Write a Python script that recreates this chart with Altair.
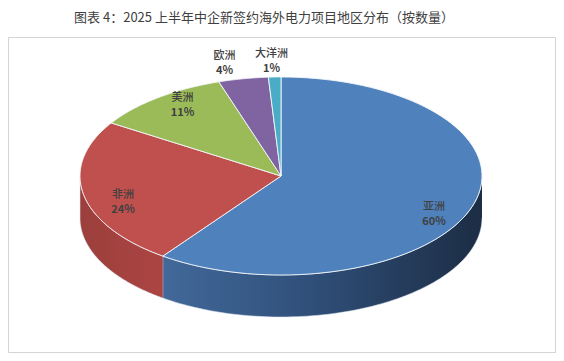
import altair as alt
import pandas as pd

# ---------------- data ----------------
categories = ["亚洲", "非洲", "美洲", "欧洲", "大洋洲"]
values = [60, 24, 11, 4, 1]
top_colors = ["#4f81bd", "#c0504d", "#9bbb59", "#8064a2", "#4bacc6"]
side_gradients = {
    "亚洲": [(0.0, "#42699a"), (0.45, "#30507a"), (1.0, "#1c2d44")],
    "非洲": [(0.0, "#9c3f3c"), (1.0, "#ab4542")],
}
TITLE = "图表 4：2025 上半年中企新签约海外电力项目地区分布（按数量）"

df = pd.DataFrame({"cat": categories, "value": values, "idx": list(range(len(categories)))})

# ---------------- layout ----------------
CX, CY, A, B, D = 281, 176, 201, 99, 42
N = 90
FONT = "Noto Sans CJK SC"
W, H = 548, 345

xs = alt.X("px:Q", scale=alt.Scale(domain=[8, 8 + W], nice=False, zero=False), axis=None)
ys = alt.Y("py:Q", scale=alt.Scale(domain=[8, 8 + H], nice=False, zero=False, reverse=True), axis=None)
color_scale = alt.Scale(domain=categories, range=top_colors)

base = (
    alt.Chart(df)
    .transform_window(cum="sum(value)", sort=[alt.SortField("idx")], frame=[None, 0])
    .transform_joinaggregate(total="sum(value)")
    .transform_calculate(
        a0="2*PI*(datum.cum-datum.value)/datum.total",
        a1="2*PI*datum.cum/datum.total",
    )
)

# top face wedges
top = (
    base.transform_calculate(pts=f"sequence(-1, {N + 2})")
    .transform_flatten(["pts"], as_=["i"])
    .transform_calculate(t=f"datum.a0 + (datum.a1 - datum.a0) * clamp(datum.i, 0, {N}) / {N}")
    .transform_calculate(
        px=f"(datum.i < 0 || datum.i > {N}) ? {CX} : {CX} + {A} * sin(datum.t)",
        py=f"(datum.i < 0 || datum.i > {N}) ? {CY} : {CY} - {B} * cos(datum.t)",
    )
    .mark_line(stroke="#f4f7fb", strokeWidth=1, strokeOpacity=0.9, strokeJoin="round")
    .encode(
        x=xs,
        y=ys,
        fill=alt.Fill("cat:N", scale=color_scale, legend=None),
        detail="cat:N",
        order=alt.Order("i:Q"),
    )
)

# side walls (front half only)
side = (
    base.transform_calculate(s0="max(datum.a0, PI/2)", s1="min(datum.a1, 3*PI/2)")
    .transform_filter("datum.s1 > datum.s0")
    .transform_calculate(pts=f"sequence(0, {2 * N + 2})")
    .transform_flatten(["pts"], as_=["j"])
    .transform_calculate(k=f"datum.j <= {N} ? datum.j : {2 * N + 1} - datum.j")
    .transform_calculate(t=f"datum.s0 + (datum.s1 - datum.s0) * datum.k / {N}")
    .transform_calculate(
        px=f"{CX} + {A} * sin(datum.t)",
        py=f"{CY} - {B} * cos(datum.t) + (datum.j > {N} ? {D} : 0)",
    )
)

side_layers = []
for cat, stops in side_gradients.items():
    grad = alt.LinearGradient(
        gradient="linear",
        stops=[alt.GradientStop(offset=o, color=c) for o, c in stops],
        x1=0, x2=1, y1=0, y2=0,
    )
    side_layers.append(
        side.transform_filter(alt.datum.cat == cat)
        .mark_line(fill=grad, stroke="#dfe6f0", strokeWidth=0.8, strokeOpacity=0.7)
        .encode(x=xs, y=ys, detail="cat:N", order=alt.Order("j:Q"))
    )

# labels
lab = (
    base.transform_calculate(mid="(datum.a0 + datum.a1) / 2", inside="datum.value >= 10")
    .transform_calculate(
        fx="datum.inside ? 0.8 : 1.5",
        fy="datum.inside ? 1.0 : 1.16",
        pct="format(datum.value / datum.total, '.0%')",
    )
    .transform_calculate(
        px=f"{CX} + {A} * datum.fx * sin(datum.mid)",
        ly=f"{CY} - {B} * datum.fy * cos(datum.mid) + (datum.inside ? 8 : 0)",
    )
)
name_lab = (
    lab.transform_calculate(py="datum.ly - 7.5")
    .mark_text(font=FONT, fontSize=11, fontWeight=500, color="#404040", baseline="middle")
    .encode(x=xs, y=ys, text="cat:N")
)
pct_lab = (
    lab.transform_calculate(py="datum.ly + 7.5")
    .mark_text(font=FONT, fontSize=11, fontWeight="bold", color="#404040", baseline="middle")
    .encode(x=xs, y=ys, text="pct:N")
)

one = alt.Chart(pd.DataFrame({"k": [0]}))
frame = one.mark_rect(fill="transparent", stroke="#d4d4d4", strokeWidth=1).encode(
    x=alt.value(0.5), x2=alt.value(W - 0.5), y=alt.value(29.5), y2=alt.value(H - 0.5)
)
title = one.mark_text(
    text=TITLE, font=FONT, fontSize=13, color="#404040", align="center", baseline="middle"
).encode(x=alt.value(256), y=alt.value(10))

chart = (
    alt.layer(frame, *side_layers, top, name_lab, pct_lab, title)
    .properties(width=W, height=H, autosize=alt.AutoSizeParams(type="none"), padding=0)
    .configure_view(strokeWidth=0)
)

chart.save("out.html", embed_options={"renderer": "svg", "actions": False})
